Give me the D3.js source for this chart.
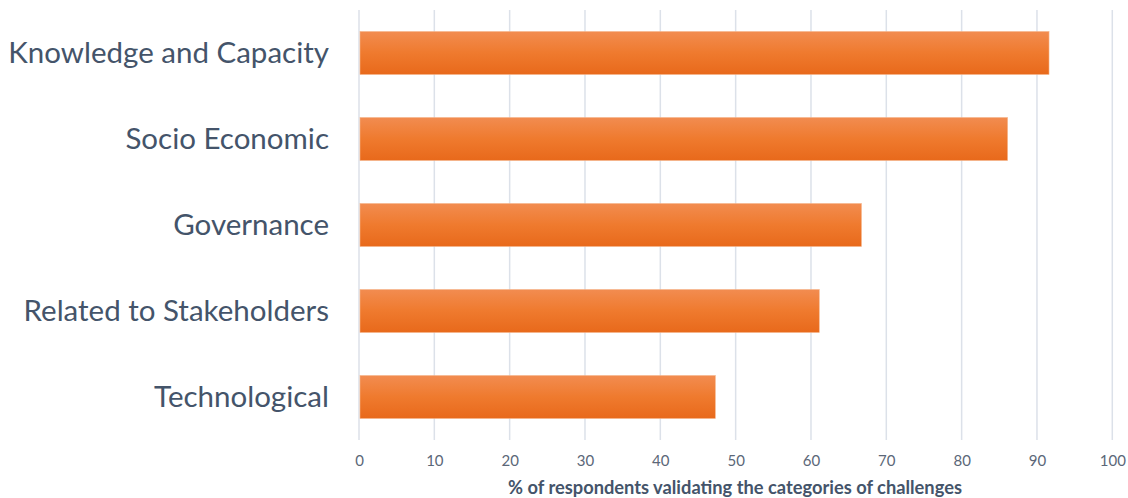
<!DOCTYPE html>
<html><head><meta charset="utf-8">
<script src="https://cdn.jsdelivr.net/npm/d3@7"></script>
<style>body{margin:0;background:#fff}svg{display:block}</style>
</head><body>
<script>
const categories = ["Knowledge and Capacity","Socio Economic","Governance","Related to Stakeholders","Technological"];
const values = [91.6, 86.1, 66.7, 61.1, 47.3];
const xTicks = [0,10,20,30,40,50,60,70,80,90,100];
const xTitle = "% of respondents validating the categories of challenges";

const W = 1128, H = 498;
const svg = d3.select("body").append("svg").attr("width", W).attr("height", H);
const defs = svg.append("defs");
const g = defs.append("linearGradient").attr("id","bg").attr("x1",0).attr("y1",0).attr("x2",0).attr("y2",1);
g.append("stop").attr("offset","0%").attr("stop-color","#F28C50");
g.append("stop").attr("offset","50%").attr("stop-color","#EF7A2E");
g.append("stop").attr("offset","100%").attr("stop-color","#E8691B");

const x = d3.scaleLinear().domain([0,100]).range([359,1112.3]);
const y = d3.scaleBand().domain(categories).range([10,440]).paddingInner(0.5).paddingOuter(0.25);

// gridlines
svg.append("g").selectAll("line").data(xTicks).join("line")
  .attr("x1", d=>x(d)).attr("x2", d=>x(d)).attr("y1",10).attr("y2",440)
  .attr("stroke","#DCE1E9").attr("stroke-width",1.5);

// bars
svg.append("g").selectAll("rect").data(values).join("rect")
  .attr("x", x(0)+1).attr("y",(d,i)=>y(categories[i]))
  .attr("width", d=>x(d)-x(0)-1).attr("height", y.bandwidth())
  .attr("fill","url(#bg)").attr("stroke","#F6B58A").attr("stroke-width",0.6);

// category labels
svg.append("g").selectAll("text").data(categories).join("text")
  .attr("x",329).attr("y", d=>y(d)+y.bandwidth()/2).attr("dy","0.35em")
  .attr("text-anchor","end").attr("font-family","Lato, 'Open Sans', sans-serif")
  .attr("font-size",29.5).attr("fill","#44546A").text(d=>d);

// x axis labels
const ax = svg.append("g").attr("transform","translate(0,440)")
  .call(d3.axisBottom(x).tickValues(xTicks).tickSize(0).tickPadding(15));
ax.select(".domain").remove();
ax.selectAll("text").attr("font-family","Lato, 'Open Sans', sans-serif").attr("font-size",15).attr("fill","#5B6778");

svg.append("text").attr("x",735).attr("y",494).attr("text-anchor","middle")
  .attr("font-family","Lato, 'Open Sans', sans-serif").attr("font-weight","bold")
  .attr("font-size",18.3).attr("fill","#44546A").text(xTitle);
</script>
</body></html>
